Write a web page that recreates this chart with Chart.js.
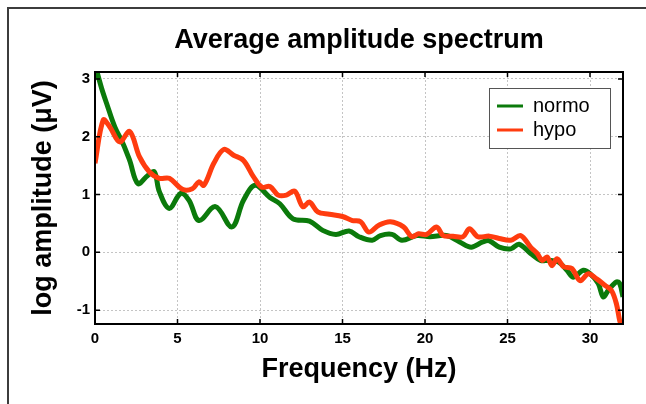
<!DOCTYPE html>
<html>
<head>
<meta charset="utf-8">
<script src="https://cdn.jsdelivr.net/npm/chart.js@4"></script>
<style>
    html, body { margin: 0; padding: 0; background: #fff; overflow: hidden; }
    #spectrum { display: block; }
</style>
</head>
<body>
<canvas id="spectrum" width="646" height="404"></canvas>
<script>
// ==================== DATA ====================
const normoFreq = [0, 0.4, 0.7, 1.2, 1.7, 2.1, 2.6, 3.2, 3.6, 3.9, 4.5, 5.2, 5.7, 6.3, 7.3, 8.3, 9.0, 9.7,
    10.6, 11.2, 12.0, 13.0, 13.8, 14.6, 15.4, 16.0, 16.8, 17.3, 18.0, 18.6, 19.5, 20.3, 21.3, 22.1, 22.8,
    23.5, 23.9, 24.5, 25.2, 25.7, 26.4, 27.0, 27.5, 28.1, 28.6, 29.0, 29.6, 30.0, 30.5, 30.8, 31.1, 31.6, 31.8, 32.0];
const normoAmp = [3.25, 2.84, 2.58, 2.17, 1.88, 1.59, 1.19, 1.33, 1.39, 1.05, 0.76, 1.02, 0.90, 0.55, 0.79, 0.44, 0.90, 1.16,
    0.95, 0.84, 0.58, 0.54, 0.38, 0.31, 0.37, 0.27, 0.21, 0.29, 0.31, 0.21, 0.29, 0.27, 0.29, 0.18, 0.09,
    0.18, 0.20, 0.09, 0.06, 0.14, -0.02, -0.14, -0.14, -0.17, -0.31, -0.43, -0.31, -0.37, -0.54, -0.77, -0.66, -0.51, -0.54, -0.77];

const hypoFreq = [0, 0.5, 0.9, 1.5, 2.1, 2.7, 3.3, 3.9, 4.5, 5.3, 5.9, 6.3, 6.6, 7.2, 7.8, 8.4, 9.0, 9.6, 10.1,
    10.6, 11.1, 11.6, 12.1, 12.6, 13.0, 13.5, 14.2, 15.0, 15.6, 16.1, 16.6, 17.2, 17.9, 18.7, 19.2, 19.6,
    20.1, 20.7, 21.1, 21.7, 22.3, 22.7, 23.2, 23.9, 24.5, 25.2, 25.8, 26.4, 26.8, 27.1, 27.4, 27.7, 28.0,
    28.4, 28.9, 29.4, 29.9, 30.4, 30.9, 31.3, 31.6, 31.8, 32.0];
const hypoAmp = [1.54, 2.29, 2.17, 1.91, 2.09, 1.65, 1.39, 1.28, 1.28, 1.09, 1.10, 1.22, 1.16, 1.54, 1.78, 1.68, 1.59, 1.31, 1.13,
    1.14, 0.99, 0.99, 1.06, 0.79, 0.87, 0.70, 0.66, 0.62, 0.55, 0.53, 0.35, 0.47, 0.53, 0.44, 0.27, 0.32,
    0.31, 0.44, 0.29, 0.28, 0.27, 0.41, 0.27, 0.28, 0.24, 0.21, 0.29, 0.09, -0.02, -0.14, -0.08, -0.23, -0.11,
    -0.25, -0.28, -0.49, -0.37, -0.46, -0.57, -0.66, -0.89, -1.18, -1.35];

const seriesNames = ['normo', 'hypo'];
const xTicks = [0, 5, 10, 15, 20, 25, 30];
const yTicks = [-1, 0, 1, 2, 3];

const GREEN = '#0b7a0b';
const RED = '#ff3c0f';
const FONT = "'Liberation Sans', Arial, Helvetica, sans-serif";

const toPoints = (xs, ys) => xs.map((x, i) => ({ x: x, y: ys[i] }));

// ==================== FRAME / TICKS / LEGEND BOX ====================
const framePlugin = {
    id: 'frame',
    afterLayout(chart) {
        // move the legend into the top-right corner of the plot
        const lg = chart.legend;
        const a = chart.chartArea;
        const boxLeft = a.right - 134, boxTop = a.top + 16;
        lg.left = boxLeft + 4;
        lg.top = boxTop + 4;
        lg.right = lg.left + lg.width;
        lg.bottom = lg.top + lg.height;
    },
    beforeDraw(chart) {
        // page edge: thin frame on the left and top of the figure
        const ctx = chart.ctx;
        ctx.save();
        ctx.strokeStyle = '#3c3c3c';
        ctx.lineWidth = 2;
        ctx.beginPath();
        ctx.moveTo(8, chart.height);
        ctx.lineTo(8, 8);
        ctx.lineTo(chart.width, 8);
        ctx.stroke();
        ctx.restore();
    },
    afterDatasetsDraw(chart) {
        const ctx = chart.ctx;
        const a = chart.chartArea;
        const xs = chart.scales.x, ys = chart.scales.y;
        ctx.save();
        ctx.strokeStyle = '#000';
        ctx.lineWidth = 1.5;
        xTicks.forEach(v => {
            const px = xs.getPixelForValue(v);
            ctx.beginPath();
            ctx.moveTo(px, a.bottom); ctx.lineTo(px, a.bottom - 5);
            ctx.moveTo(px, a.top); ctx.lineTo(px, a.top + 5);
            ctx.stroke();
        });
        yTicks.forEach(v => {
            const py = ys.getPixelForValue(v);
            ctx.beginPath();
            ctx.moveTo(a.left, py); ctx.lineTo(a.left + 5, py);
            ctx.moveTo(a.right, py); ctx.lineTo(a.right - 5, py);
            ctx.stroke();
        });
        ctx.lineWidth = 2;
        ctx.strokeRect(a.left, a.top, a.right - a.left, a.bottom - a.top);
        ctx.restore();
    },
    afterDraw(chart) {
        const ctx = chart.ctx;
        const a = chart.chartArea;
        const boxLeft = a.right - 134, boxTop = a.top + 16;
        ctx.save();
        ctx.fillStyle = '#fff';
        ctx.fillRect(boxLeft, boxTop, 121, 60);
        ctx.strokeStyle = '#555';
        ctx.lineWidth = 1;
        ctx.strokeRect(boxLeft + 0.5, boxTop + 0.5, 121, 60);
        ctx.restore();
        chart.legend.draw();
    }
};

// ==================== CHART ====================
const ctx = document.getElementById('spectrum').getContext('2d');
new Chart(ctx, {
    type: 'line',
    data: {
        datasets: [
            {
                label: seriesNames[0],
                data: toPoints(normoFreq, normoAmp),
                borderColor: GREEN,
                backgroundColor: GREEN,
                borderWidth: 5,
                pointRadius: 0,
                tension: 0.35,
                order: 1,
            },
            {
                label: seriesNames[1],
                data: toPoints(hypoFreq, hypoAmp),
                borderColor: RED,
                backgroundColor: RED,
                borderWidth: 5,
                pointRadius: 0,
                tension: 0.35,
                order: 0,
            }
        ]
    },
    options: {
        responsive: false,
        animation: false,
        layout: { padding: { left: 0, right: 23, top: 0, bottom: 0 } },
        plugins: {
            tooltip: { enabled: false },
            title: {
                display: true,
                text: 'Average amplitude spectrum',
                fullSize: false,
                color: '#000',
                font: { family: FONT, size: 27, weight: 'bold', lineHeight: 1.2 },
                padding: { top: 24.8, bottom: 14.8 }
            },
            legend: {
                position: 'chartArea',
                align: 'start',
                labels: {
                    color: '#000',
                    font: { family: FONT, size: 20 },
                    usePointStyle: true,
                    pointStyle: 'line',
                    pointStyleWidth: 26,
                    padding: 4,
                    sort: (a, b) => a.datasetIndex - b.datasetIndex,
                    generateLabels(chart) {
                        const items = Chart.defaults.plugins.legend.labels.generateLabels(chart);
                        items.forEach(it => { it.lineWidth = 3; });
                        return items;
                    }
                }
            }
        },
        scales: {
            x: {
                type: 'linear',
                min: 0, max: 32,
                afterFit: s => { s.height = 80; },
                grid: { color: '#c4c4c4', lineWidth: 1, drawTicks: false },
                border: { display: false, dash: [2, 2] },
                ticks: {
                    stepSize: 5, includeBounds: false, padding: 6, color: '#000',
                    maxRotation: 0,
                    font: { family: FONT, size: 15, weight: 'bold' }
                },
                title: {
                    display: true,
                    text: 'Frequency (Hz)',
                    color: '#000',
                    font: { family: FONT, size: 27, weight: 'bold', lineHeight: 1.2 },
                    padding: { top: 0, bottom: 17.8 }
                }
            },
            y: {
                min: -1.24, max: 3.12,
                afterFit: s => { s.width = 95; },
                grid: { color: '#c4c4c4', lineWidth: 1, drawTicks: false },
                border: { display: false, dash: [2, 2] },
                ticks: {
                    stepSize: 1, includeBounds: false, padding: 5, color: '#000',
                    font: { family: FONT, size: 15, weight: 'bold' }
                },
                title: {
                    display: true,
                    text: 'log amplitude (μV)',
                    color: '#000',
                    font: { family: FONT, size: 27, weight: 'bold', lineHeight: 1.2 },
                    padding: { top: 27, bottom: 0 }
                }
            }
        }
    },
    plugins: [framePlugin]
});
</script>
</body>
</html>
